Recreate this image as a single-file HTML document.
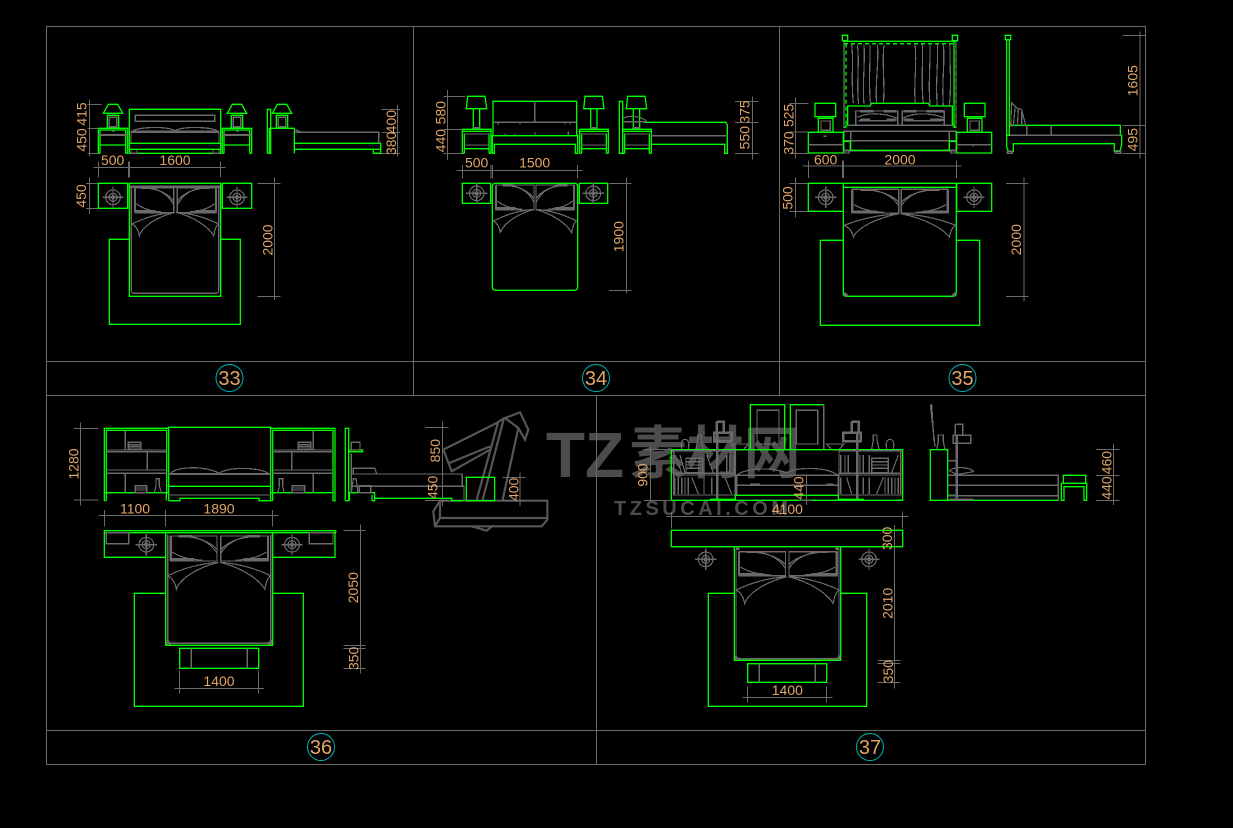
<!DOCTYPE html>
<html><head><meta charset="utf-8"><style>
html,body{margin:0;padding:0;background:#000}
svg{display:block}
svg *{vector-effect:non-scaling-stroke}
path,rect,circle,polygon,polyline,line,ellipse{shape-rendering:crispEdges}
.g,.g *{stroke:#0f0;fill:none;stroke-width:1.3;shape-rendering:auto}
.k,.k *{stroke:#6a6a6a;fill:none;stroke-width:1.2}
.d,.d *{stroke:#6a6a6a;fill:none;stroke-width:1}
.t2,.k .t2,.k.t2{stroke-width:2.4}
text{font-family:"Liberation Sans",sans-serif;fill:#e2a568;font-size:42px;text-anchor:middle;stroke:none}
</style></head><body>
<svg width="1233" height="828" viewBox="0 0 1233 828" xmlns="http://www.w3.org/2000/svg">
<defs>
<g id="sym" class="k"><circle r="22"/><circle r="12"/><circle r="5"/><path d="M-32 0H32M0 -32V32"/></g>
<g id="pil" class="k"><path d="M0 0H116V75H0Z"/><path class="t2" d="M0 0V75M20 1H52M0 70H60"/><path d="M40 2C75 6 100 20 116 40M52 2C85 10 105 30 116 52M4 48C25 65 50 70 80 73"/></g>
<g id="blk" class="k"><path d="M128 0C85 3 40 15 0 35C10 40 18 50 22 70C30 45 70 15 128 0"/><path d="M132 0C175 3 220 15 260 35C250 42 248 55 245 70C230 45 190 15 132 0"/></g>
<g id="lampA"><polygon class="g" points="130,70 145,43 173,43 188,70"/><rect class="g" x="142" y="76" width="34" height="38"/><rect class="k" x="148" y="82" width="22" height="28"/><path class="k" d="M159 70V76"/></g>
<g id="nsA"><path class="g" d="M115 190V115H203V190M120 190V120H197V190M120 165H197M115 190H120M197 190H203"/><path class="k t2" d="M115 135H203"/><path class="k" d="M157 124H163"/></g>
<g id="lampB"><path class="g" d="M109 56L113 19H165L170 56ZM130 58V114M149 58V114M122 118H158"/><path class="k t2" d="M128 114H152"/></g>
<g id="nsB"><path class="g" d="M97 190V124H183V190M103 190V130M177 190V130M97 118H183V124M97 118V124M103 176H177M97 190H103M177 190H183"/><path class="k" d="M103 132H177M103 165H177"/></g>
</defs>

<!-- watermark -->
<g transform="translate(430 408) scale(.33333)">
<path style="stroke:#565656;stroke-width:2.2;fill:none;shape-rendering:auto" d="M225 30L270 13L295 65L285 95L265 60ZM40 125L200 45M40 125L65 190L180 125M58 165L180 115M205 40L140 275M222 30L158 275M265 60L218 275M200 45L222 30M225 30L265 60M10 310L30 278H352V335L335 355H15ZM30 278V330H352M15 355L30 330M125 355L170 368L190 352"/>
</g>
<text x="585" y="477" style="font-size:64px;font-weight:bold;fill:#4c4c4c">TZ</text>
<text x="715" y="473" style="font-size:57px;font-weight:bold;fill:#4c4c4c;font-family:'Liberation Sans','Noto Sans CJK SC',sans-serif">素材网</text>
<text x="701" y="515" textLength="174" style="font-size:20px;font-weight:bold;fill:#4c4c4c">TZSUCAI.COM</text>

<!-- frame -->
<path class="d" d="M46.5 26.5H1145.5V764.5H46.5ZM46.5 361.5H1145.5M46.5 395.5H1145.5M46.5 730.5H1145.5M413.5 26.5V395.5M779.5 26.5V395.5M596.5 395.5V764.5"/>
<circle cx="229.5" cy="378" r="13.5" style="stroke:#00b4b4;fill:none;shape-rendering:auto"/>
<circle cx="596" cy="378" r="13.5" style="stroke:#00b4b4;fill:none;shape-rendering:auto"/>
<circle cx="962.5" cy="378" r="13.5" style="stroke:#00b4b4;fill:none;shape-rendering:auto"/>
<circle cx="321" cy="747" r="13.5" style="stroke:#00b4b4;fill:none;shape-rendering:auto"/>
<circle cx="870" cy="747" r="13.5" style="stroke:#00b4b4;fill:none;shape-rendering:auto"/>
<text x="229.5" y="385" style="font-size:20px">33</text>
<text x="596" y="385" style="font-size:20px">34</text>
<text x="962.5" y="385" style="font-size:20px">35</text>
<text x="321" y="754" style="font-size:20px">36</text>
<text x="870" y="754" style="font-size:20px">37</text>

<!-- PANEL 33 -->
<g transform="translate(60 90) scale(.33333)">
<use href="#lampA"/><use href="#lampA" x="372"/><use href="#lampA" x="507"/>
<use href="#nsA"/><use href="#nsA" x="372"/>
<rect class="g" x="208" y="58" width="274" height="132"/>
<rect class="k" x="226" y="76" width="238" height="18"/>
<path class="k" d="M216 125C230 110 320 108 345 122C370 108 460 110 474 125M213 125V160M477 125V160M213 178V190H231V178M459 178V190H477V178"/>
<path class="k t2" d="M213 125H477"/>
<path class="g" d="M208 160H482M208 178H482"/>
<path class="g" d="M622 190V58H632V190H622M628 190V115H703V190M703 160H962V190H940V178M703 178H962"/>
<path class="k" d="M703 127H956V160M703 118L725 127"/>
<path class="d" d="M88 28V200M83 43H125M83 115H115M83 190H115M100 232H497M115 215V262M205 215V262M208 215V262M482 215V262M965 58H1020M965 127H1020M965 190H1020M1012 45V200M88 262V372M78 280H115M78 355H115M643 262V630M592 280H662M592 619H662"/>
<path class="g" d="M115 280H203V355H115ZM487 280H575V355H487ZM208 280H482V619H208ZM208 448H148V703H541V448H482"/>
<use href="#sym" x="159" y="322"/><use href="#sym" x="531" y="322"/>
<path class="k" d="M214 290V602Q214 610 222 610H468Q476 610 476 602V290"/><path class="k t2" d="M210 290H480"/>
<use href="#pil" transform="translate(225 293)"/><use href="#pil" transform="translate(468 293) scale(-1 1)"/>
<use href="#blk" transform="translate(216 367)"/>
<text transform="translate(80 150) rotate(-90)">450</text>
<text transform="translate(80 72) rotate(-90)">415</text>
<text transform="translate(1008 95) rotate(-90)">400</text>
<text transform="translate(1008 160) rotate(-90)">380</text>
<text x="158" y="225">500</text><text x="345" y="225">1600</text>
<text transform="translate(78 318) rotate(-90)">450</text>
<text transform="translate(638 450) rotate(-90)">2000</text>
</g>

<!-- PANEL 34 -->
<g transform="translate(430 90) scale(.33333)">
<use href="#lampB"/><use href="#lampB" x="352"/><use href="#lampB" x="480"/>
<use href="#nsB"/><use href="#nsB" x="352"/><use href="#nsB" x="481"/>
<path class="g" d="M189 137V34H440V137M187 137H443V190H436V163H193V190H187ZM568 190V34H578V190Z"/>
<path class="k" d="M314 34V97M189 97H440M205 97V104M270 97V104M405 97V104M420 97V104M225 130V137M255 130V137M315 126V137M415 124V137"/>
<path class="g" d="M642 97H888L892 105V190H884V163H662"/>
<path class="k" d="M662 137H892M578 85Q610 70 650 92M580 95H650"/>
<path class="d" d="M52 0V210M40 19H105M40 118H97M40 190H97M80 241H458M97 225V265M183 225V265M187 225V265M443 225V265M968 20V208M915 34H985M915 97H985M915 190H985M590 262V610M537 280H605M537 601H605"/>
<path class="g" d="M97 280H182V340H97ZM448 280H533V340H448ZM197 280H433Q443 280 443 290V590Q443 601 433 601H197Q187 601 187 590V290Q187 280 197 280Z"/>
<use href="#sym" x="140" y="310"/><use href="#sym" x="490" y="310"/>
<use href="#pil" transform="translate(198 285) scale(.98 1)"/><use href="#pil" transform="translate(432 285) scale(-.98 1)"/>
<use href="#blk" transform="translate(190 358) scale(.96 1)"/>
<text transform="translate(47 68) rotate(-90)">580</text>
<text transform="translate(47 152) rotate(-90)">440</text>
<text transform="translate(958 66) rotate(-90)">375</text>
<text transform="translate(958 143) rotate(-90)">550</text>
<text x="140" y="233">500</text><text x="314" y="233">1500</text>
<text transform="translate(580 440) rotate(-90)">1900</text>
</g>

<!-- PANEL 35 -->
<g transform="translate(780 28) scale(.33333)">
<path class="g" d="M187 22H203V38H187ZM517 22H533V38H517ZM190 40H530M192 38V300M522 38V300"/>
<path class="g" style="stroke-dasharray:4 3" d="M192 47H530M198 47V300M528 47V300"/>
<path class="k" d="M192 40V300M528 40V300M215 50C222 100 212 150 220 225M232 50C240 100 228 170 236 228M252 50C256 110 246 170 252 228M270 50C272 100 264 170 272 228M292 50C298 100 284 170 290 226M312 50C305 100 316 180 310 226M405 50C412 100 400 180 406 226M427 50C430 100 422 170 430 226M450 50C452 100 444 170 450 230M472 50C476 100 465 170 472 232M490 50C496 100 484 170 490 232M510 50C508 110 516 170 508 232"/>
<path class="g" d="M192 300L203 290V234H270L275 226H445L450 234H517V290L529 300"/>
<path class="k" d="M227 249H353V291H227ZM367 249H493V291H367ZM232 268C270 250 320 258 350 270M370 270C410 250 460 258 490 268M235 278H345M375 278H485M191 310H529V368H191ZM191 338H529M212 310V368M508 310V368M205 292H515"/>
<path class="k t2" d="M240 250H280M310 250H350M240 275H270M320 275H350M370 250H410M440 250H490M370 275H400M450 275H490"/>
<path class="g" d="M191 310V367H529V310M191 340H211V367M508 367V340H529M85 313H190V375H85ZM530 313H635V375H530ZM105 226H167V266H105ZM115 271H159V312H115ZM553 226H615V266H553ZM562 271H606V312H562Z"/>
<path class="k" d="M123 279H151V307H123ZM570 279H598V307H570ZM85 350H190M530 350H635M130 325H140M580 350V355M193 367H208V375H193ZM512 367H527V375H512Z"/>
<path class="g" d="M676 22H692V35H676ZM680 35V322H688V35M740 292H1021V322M688 292H740M680 322H1025V348L1020 370H1003V347H700V370H685L680 355Z"/>
<path class="k" d="M692 295L695 225L710 240L725 245L738 295M700 295L705 240M712 295L715 245M725 295V250M740 292V322M814 292V322M690 322H1021M1005 368H1022V376H1005ZM682 370H697V376H682Z"/>
<path class="d" d="M46 208V392M28 226H85M28 312H85M28 377H85M67 414H545M85 398V450M188 398V450M190 398V450M530 398V450M1080 10V392M1027 22H1095M1027 292H1095M1027 376H1095M46 448V568M28 466H85M28 550H85M732 448V820M678 466H745M678 805H745"/>
<path class="g" d="M85 466H190V550H85ZM530 466H635V550H530ZM190 466H529V795Q529 805 519 805H200Q190 805 190 795ZM190 478H529M190 637H121V892H599V637H529"/>
<use href="#sym" x="137" y="508"/><use href="#sym" x="582" y="508"/>
<use href="#pil" transform="translate(217 484) scale(1.2 .95)"/><use href="#pil" transform="translate(503 484) scale(-1.2 .95)"/>
<use href="#blk" transform="translate(192 557) scale(1.29 1)"/>
<path class="k t2" d="M193 795L203 805M527 795L517 805"/>
<text transform="translate(40 262) rotate(-90)">525</text>
<text transform="translate(40 345) rotate(-90)">370</text>
<text transform="translate(1072 158) rotate(-90)">1605</text>
<text transform="translate(1072 335) rotate(-90)">495</text>
<text x="137" y="410">600</text><text x="360" y="410">2000</text>
<text transform="translate(38 510) rotate(-90)">500</text>
<text transform="translate(723 635) rotate(-90)">2000</text>
</g>

<!-- PANEL 36 -->
<g transform="translate(60 400) scale(.33333)">
<path class="g" d="M133 302V85H326M139 302V91H320V278M133 278H326M319 302V278M326 302V82H632V302M632 85H825V302H819V278H632M638 278V91H819V278M638 302V278M326 302H360V295H597V302H638M326 259H632M133 302H139M819 302H825"/>
<path class="k" d="M139 150H320M139 155H320M139 210H320M139 220H320M196 91V150M262 155V210M196 220V278M638 150H819M638 155H819M638 210H819M638 220H819M760 91V150M695 155V210M760 220V278M205 127H242V147H205ZM205 134H242M205 140H242M226 257H260V278H226ZM226 264H260M226 270H260M715 127H752V147H715ZM715 134H752M715 140H752M697 257H734V278H697ZM697 264H734M697 270H734M283 278L288 258V236H298V258L304 278M653 278L658 258V236H668V258L673 278M326 285H632M330 222C345 200 430 195 478 220C500 200 600 200 628 222"/>
<path class="k t2" d="M326 222H632"/>
<path class="g" d="M856 302V85H866V302H856M866 150H908V155H866M868 302V278H944V302H936V285M944 295H1175V302H1210M1207 225V258"/>
<path class="k" d="M874 127H900V150H874ZM874 222H1207V258M874 259H1212V302M874 160V278M874 278L880 236H888L894 278M898 257H932V278H898ZM880 205H945L950 222H880Z"/>
<rect class="g" x="1219" y="232" width="85" height="70"/>
<path class="d" d="M62 68V316M42 85H115M42 300H115M115 347H655M133 330V380M317 330V380M638 330V380M1148 65V318M1095 82H1165M1095 222H1165M1095 302H1165M1380 218V318M1327 232H1397M1327 302H1397M902 373V820M850 392H917M850 736H917M850 745H917M850 805H917M343 865H612M358 812V880M596 812V880"/>
<path class="g" d="M133 392H827V398H133ZM133 398V472H317M825 398V472H638M317 398H638V736H317ZM317 580H223V919H730V580H638M359 745H596V805H359Z"/>
<path class="k" d="M139 398H206V431H139ZM748 398H819V431H748ZM394 745V805M562 745V805M323 404V730H632V404"/>
<use href="#sym" x="259" y="434"/><use href="#sym" x="696" y="434"/>
<use href="#pil" transform="translate(332 408) scale(1.2 1)"/><use href="#pil" transform="translate(624 408) scale(-1.22 1)"/>
<use href="#blk" transform="translate(323 487) scale(1.19 1.15)"/>
<path class="k t2" d="M323 720V730H333M632 720V730H622"/>
<text transform="translate(56 192) rotate(-90)">1280</text>
<text x="225" y="340">1100</text><text x="477" y="340">1890</text>
<text transform="translate(1140 152) rotate(-90)">850</text>
<text transform="translate(1133 262) rotate(-90)">450</text>
<text transform="translate(1376 268) rotate(-90)">400</text>
<text x="477" y="858">1400</text>
<text transform="translate(894 563) rotate(-90)">2050</text>
<text transform="translate(896 775) rotate(-90)">350</text>
</g>

<!-- PANEL 37 -->
<g transform="translate(630 400) scale(.33333)">
<path class="g" d="M361 148V14H464V148M481 148V14H581"/>
<path class="k" d="M581 14V148M381 31H447V132H381ZM499 31H563V132H499ZM155 148Q150 118 165 118Q180 118 175 148M198 148L203 120V105H214V120L220 148M725 148L730 120V105H741V120L747 148M770 148Q765 118 780 118Q795 118 790 148M303 132H355L340 149H318ZM590 132H642L627 149H605Z"/>
<path class="k t2" d="M260 65H281V98M260 65V98M253 98H305V124H253ZM665 65H686V98M665 65V98M640 98H692V124H640Z"/>
<rect class="g" x="124" y="149" width="694" height="152"/>
<path class="k" d="M131 152H316V285H131ZM131 220H316M131 225H316M627 152H812V285H627ZM627 220H812M627 225H812M135 165L155 218M150 165L165 218M168 175H218V218H168ZM168 185H218M168 195H218M168 205H218M230 165L250 218M290 165V218M300 165V218M312 165V218M135 232V282M145 232V282M155 232V282M165 232V282M175 232V282M185 232L205 282M222 232V282M245 232V282M285 232L305 282M632 165V218M645 165V218M655 165V218M690 165V218M700 165V218M718 165V218M725 175H775V218H725ZM725 185H775M725 195H775M725 205H775M785 218L805 165M700 232V282M718 232V282M740 282L760 232M765 232V282M775 232V282M785 232V282M795 232V282M805 232V282M632 232V282M650 232L665 282M320 226H625V256H320ZM320 256V286M625 256V286M320 226C345 205 420 200 470 218C500 200 590 200 625 226M360 252H390M590 252H610"/>
<rect x="258" y="98" width="8" height="200" style="fill:#6a6a6a;stroke:none"/>
<rect x="678" y="98" width="8" height="200" style="fill:#6a6a6a;stroke:none"/>
<path class="g" d="M240 298H316M625 298H702M316 301V286H625V301"/>
<path class="g" d="M901 301V149H953V301ZM953 286H975M953 301H1285M1300 250V226H1367V250M1294 250H1370V301H1362V260H1302V301H1294Z"/>
<path class="k" d="M901 14L915 140M905 14L912 125M920 149L925 125V105H940V125L945 149M953 182H976M953 226H1285V301M953 256H1285M953 287H1285M958 212C980 195 1030 205 1030 215L980 224L958 212M970 106H1022V130H970ZM976 73H998V106M976 73V106"/>
<rect x="976" y="106" width="8" height="194" style="fill:#6a6a6a;stroke:none"/>
<rect x="958" y="296" width="72" height="5" style="fill:#6a6a6a;stroke:none"/>
<path class="d" d="M62 140V305M40 149H124M40 301H124M530 226V315M505 226H545M505 301H545M110 349H835M124 335V385M818 335V385M793 375V865M742 440H812M742 781H812M742 790H812M742 847H812M338 892H607M352 860V908M590 860V908M1450 132V315M1398 149H1468M1398 226H1468M1398 301H1468"/>
<path class="g" d="M124 391H818V440H124ZM313 440V781H632V440M313 580H235V919H710V580H632M353 791H590V847H353Z"/>
<path class="k" d="M388 791V847M556 791V847M318 446V776H627V446"/>
<path class="k t2" d="M318 446H328M617 446H627M318 766V776H328M627 766V776H617"/>
<use href="#sym" x="227" y="478"/><use href="#sym" x="717" y="478"/>
<use href="#pil" transform="translate(327 455) scale(1.2 .96)"/><use href="#pil" transform="translate(620 455) scale(-1.23 .96)"/>
<use href="#blk" transform="translate(318 530) scale(1.19 1.15)"/>
<text transform="translate(52 225) rotate(-90)">900</text>
<text transform="translate(521 264) rotate(-90)">440</text>
<text x="472" y="342">4100</text>
<text transform="translate(786 415) rotate(-90)">300</text>
<text transform="translate(787 610) rotate(-90)">2010</text>
<text transform="translate(789 815) rotate(-90)">350</text>
<text x="472" y="885">1400</text>
<text transform="translate(1444 188) rotate(-90)">460</text>
<text transform="translate(1444 264) rotate(-90)">440</text>
</g>
</svg>
</body></html>
